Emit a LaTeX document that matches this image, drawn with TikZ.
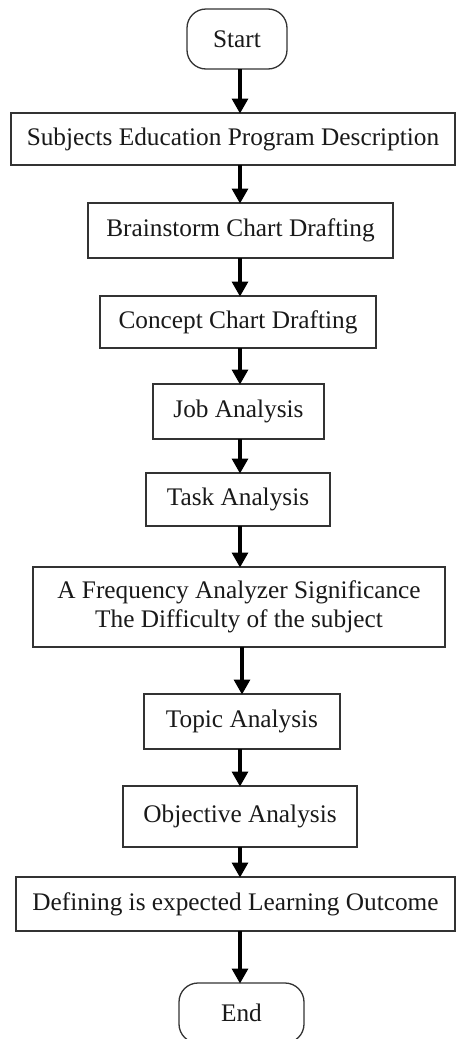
\documentclass[tikz,border=0pt]{standalone}
\usepackage{fontspec}
\setmainfont{Liberation Serif}
\usetikzlibrary{arrows.meta}
\begin{document}
\begin{tikzpicture}[x=1pt,y=-1pt,
  box/.style={draw=black!80, line width=1.3pt, rectangle, inner sep=0pt, outer sep=0pt,
    text=black!90, font=\fontsize{25.3}{29}\selectfont, align=center},
  term/.style={box, rounded corners=19pt},
  flow/.style={line width=3.2pt, -{Triangle[length=15pt,width=16pt]}, shorten >=-0.5pt}]
\useasboundingbox (0,0) rectangle (456,1039);
\clip (0,0) rectangle (456,1039);
\fill[white] (0,0) rectangle (456,1039);
\coordinate (ax) at (240,0);
\node[term, minimum width=100pt, minimum height=60pt] (start) at (237,39) {Start};
\node[box, minimum width=444pt, minimum height=52pt] (subj) at (233,139) {Subjects Education Program Description};
\node[box, minimum width=305pt, minimum height=55pt] (brain) at (240.5,230.5) {Brainstorm Chart Drafting};
\node[box, minimum width=276pt, minimum height=52pt] (concept) at (238,322) {Concept Chart Drafting};
\node[box, minimum width=171pt, minimum height=55pt] (job) at (238.5,411.5) {Job Analysis};
\node[box, minimum width=184pt, minimum height=53pt] (task) at (238,499.5) {Task Analysis};
\node[box, minimum width=412pt, minimum height=80pt] (freq) at (239,607) {A Frequency Analyzer Significance\\ The Difficulty of the subject};
\node[box, minimum width=196pt, minimum height=55pt] (topic) at (242,721.5) {Topic Analysis};
\node[box, minimum width=234pt, minimum height=61pt] (obj) at (240,816.5) {Objective Analysis};
\node[box, minimum width=439pt, minimum height=54pt] (def) at (235.5,904) {Defining is expected Learning Outcome};
\node[term, minimum width=125pt, minimum height=60pt] (end) at (241.5,1013) {End};
\draw[flow] (start.south -| ax) -- (subj.north -| ax);
\draw[flow] (subj.south -| ax) -- (brain.north -| ax);
\draw[flow] (brain.south -| ax) -- (concept.north -| ax);
\draw[flow] (concept.south -| ax) -- (job.north -| ax);
\draw[flow] (job.south -| ax) -- (task.north -| ax);
\draw[flow] (task.south -| ax) -- (freq.north -| ax);
\draw[flow] (freq.south -| topic) -- (topic.north);
\draw[flow] (topic.south -| ax) -- (obj.north -| ax);
\draw[flow] (obj.south -| ax) -- (def.north -| ax);
\draw[flow] (def.south -| ax) -- (end.north -| ax);
\end{tikzpicture}
\end{document}
